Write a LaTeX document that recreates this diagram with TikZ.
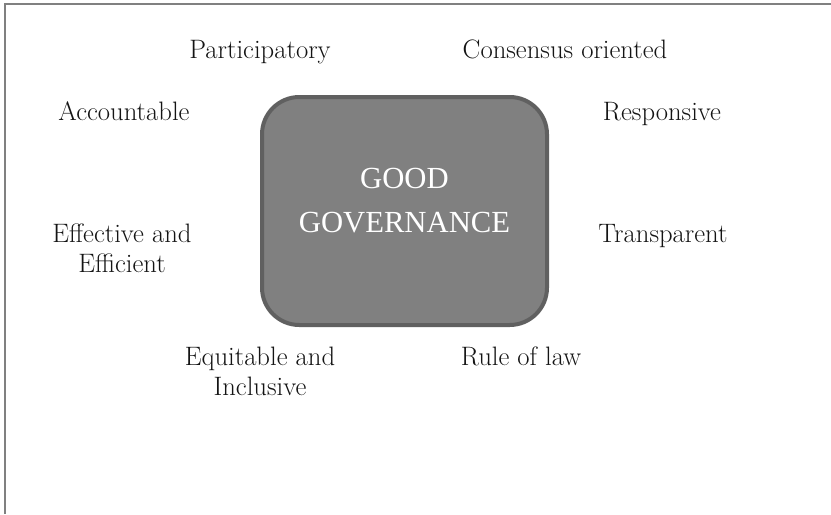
\documentclass[tikz,border=0pt]{standalone}
\usepackage{fontspec}
\newfontfamily\centerfont{Liberation Serif}
\definecolor{framegray}{HTML}{808080}
\definecolor{boxfill}{HTML}{808080}
\definecolor{boxline}{HTML}{606060}
\definecolor{labeltext}{HTML}{141414}
\begin{document}
\begin{tikzpicture}[x=0.75pt,y=-0.75pt,
  principle/.style={anchor=base,align=center,inner sep=0pt,text=labeltext,
    font=\fontsize{20}{22.5}\selectfont},
  corebox/.style={draw=boxline,fill=boxfill,line width=3pt,rounded corners=28pt},
  coretext/.style={anchor=base,align=center,inner sep=0pt,text=white,
    font=\centerfont\fontsize{23}{33}\selectfont}]
\useasboundingbox (0,0) rectangle (831,514);
% frame (top and left edges only)
\draw[framegray,line width=1.1pt] (5,514) -- (5,4) -- (831,4);
% central box
\draw[corebox] (262,97) rectangle (547,325);
\node[coretext] (core) at (404.5,232) {GOOD\\GOVERNANCE};
% surrounding principles
\node[principle] (part) at (260,58) {Participatory};
\node[principle] (cons) at (565,58) {Consensus oriented};
\node[principle] (acc)  at (124,120) {Accountable};
\node[principle] (resp) at (662,120) {Responsive};
\node[principle] (eff)  at (122,272) {Effective and\\Efficient};
\node[principle] (trans) at (663,242) {Transparent};
\node[principle] (equ)  at (260,395) {Equitable and\\Inclusive};
\node[principle] (rule) at (521,365) {Rule of law};
\end{tikzpicture}
\end{document}
